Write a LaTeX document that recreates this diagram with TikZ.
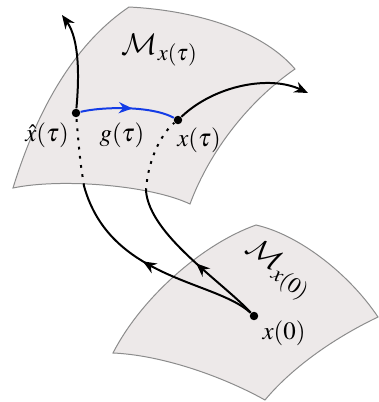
\documentclass[tikz,border=0pt]{standalone}
\usepackage{amsmath}
\usepackage{mathptmx}
\DeclareMathAlphabet{\mathcal}{OMS}{cmsy}{m}{n}
\usepackage{tikz}
\usetikzlibrary{arrows.meta,decorations.markings}

\tikzset{
  sheet/.style={fill=sheetfill, draw=gray!90, line width=0.4pt},
  dot/.style={circle, fill=black, inner sep=0pt, minimum size=3.4pt},
  flow/.style={line width=0.8pt, -{Stealth[length=5.5pt,width=4.5pt,inset=1.8pt]}},
  hidden/.style={line width=0.8pt, dash pattern=on 1.1pt off 2.6pt},
  midarrow/.style={line width=0.8pt, postaction={decorate},
    decoration={markings, mark=at position #1 with {\arrow{Stealth[length=5.5pt,width=4.5pt,inset=1.8pt]}}}},
  sheetlabel/.style={font=\large},
}
\definecolor{sheetfill}{RGB}{237,233,233}
\definecolor{geod}{RGB}{20,60,230}

\begin{document}
\begin{tikzpicture}[x=0.4bp, y=-0.4bp]
		\useasboundingbox (0,0) rectangle (379,402);
		% upper sheet
		\draw[sheet] (13,188) .. controls (40,100) and (80,40) .. (129,7)
			.. controls (190,10) and (260,28) .. (295,69)
			.. controls (250,100) and (210,150) .. (190,204)
			.. controls (150,185) and (60,178) .. (13,188) -- cycle;
		% lower sheet
		\draw[sheet] (256,225) .. controls (300,235) and (350,275) .. (378,317)
			.. controls (330,340) and (290,370) .. (265,400)
			.. controls (220,375) and (160,355) .. (113,353)
			.. controls (140,300) and (200,245) .. (256,225) -- cycle;

		\node[dot] (xhat) at (76,113) {};
		\node[dot] (xtau) at (178,120) {};
		\node[dot] (xzero) at (254,316) {};
		\coordinate (upend) at (62,15);
		\coordinate (rightend) at (308,93);
		\coordinate (cutA) at (84,186);
		\coordinate (cutB) at (146,191);

		% paths on the upper sheet
		\draw[flow] (xhat) .. controls (79,80) and (80,40) .. (upend);
		\draw[flow] (xtau) .. controls (215,85) and (270,75) .. (rightend);
		\draw[midarrow=0.55, geod] (xhat) .. controls (100,107) and (150,105) .. (xtau);

		% paths from the lower sheet
		\draw[midarrow=0.55] (xzero) .. controls (215,280) and (110,280) .. (cutA);
		\draw[hidden] (cutA) .. controls (80,160) .. (xhat);
		\draw[midarrow=0.45] (xzero) .. controls (220,280) and (150,235) .. (cutB);
		\draw[hidden] (cutB) .. controls (148,155) and (165,130) .. (xtau);

		\node[sheetlabel] (Mtau) at (160,50) {$\mathcal{M}_{x(\tau)}$};
		\node (lxhat) at (47,135) {$\hat{x}(\tau)$};
		\node (lg) at (122,135) {$g(\tau)$};
		\node (lxtau) at (199,140) {$x(\tau)$};
		\node[sheetlabel, rotate=-35] (Mzero) at (278,270) {$\mathcal{M}_{x(0)}$};
		\node (lxzero) at (284,333) {$x(0)$};
	\end{tikzpicture}
\end{document}
